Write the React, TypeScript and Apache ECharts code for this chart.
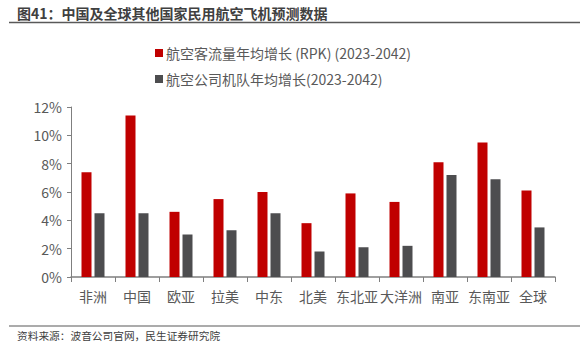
import React, { useEffect, useRef } from "react";
import * as echarts from "echarts";

const categories = ["非洲", "中国", "欧亚", "拉美", "中东", "北美", "东北亚", "大洋洲", "南亚", "东南亚", "全球"];
const rpkGrowth = [7.4, 11.4, 4.6, 5.5, 6.0, 3.8, 5.9, 5.3, 8.1, 9.5, 6.1];
const fleetGrowth = [4.5, 4.5, 3.0, 3.3, 4.5, 1.8, 2.1, 2.2, 7.2, 6.9, 3.5];
const seriesNames = ["航空客流量年均增长 (RPK) (2023-2042)", "航空公司机队年均增长(2023-2042)"];
const titleText = "图41：中国及全球其他国家民用航空飞机预测数据";
const sourceText = "资料来源：波音公司官网，民生证券研究院";

const FONT = "'Noto Sans CJK SC', 'Noto Sans', sans-serif";

export default function App() {
  const ref = useRef<HTMLDivElement>(null);
  useEffect(() => {
    document.body.style.margin = "0";
    const chart = echarts.init(ref.current!, null, { renderer: "svg" });
    chart.setOption({
      animation: false,
      textStyle: { fontFamily: FONT },
      legend: {
        orient: "vertical",
        left: 150,
        top: 41,
        itemGap: 12,
        itemWidth: 8,
        itemHeight: 8,
        icon: "rect",
        textStyle: { fontSize: 14, color: "#595959", fontFamily: FONT, padding: [0, 0, 0, -2] },
        data: seriesNames,
      },
      grid: { left: 71, right: 33, top: 107, bottom: 76 },
      xAxis: {
        type: "category",
        data: categories,
        axisLine: { lineStyle: { color: "#7f7f7f", width: 1.5 } },
        axisTick: { show: true, lineStyle: { color: "#7f7f7f" }, length: 5 },
        axisLabel: { fontSize: 14, color: "#595959", margin: 12, interval: 0, fontFamily: FONT },
      },
      yAxis: {
        type: "value",
        min: 0,
        max: 12,
        interval: 2,
        axisLine: { show: true, lineStyle: { color: "#7f7f7f", width: 1 } },
        axisTick: { show: true, lineStyle: { color: "#7f7f7f" }, length: 4 },
        splitLine: { show: false },
        axisLabel: { fontSize: 14, color: "#595959", formatter: "{value}%", margin: 9, fontFamily: FONT },
      },
      series: [
        {
          name: seriesNames[0],
          type: "bar",
          data: rpkGrowth,
          barWidth: 10,
          barGap: "30%",
          itemStyle: { color: "#C00000" },
        },
        {
          name: seriesNames[1],
          type: "bar",
          data: fleetGrowth,
          barWidth: 10,
          itemStyle: { color: "#4D4D4F" },
        },
      ],
      graphic: [
        {
          type: "text",
          left: 17,
          top: 6,
          style: { text: titleText, fontSize: 14, fontWeight: "bold", fill: "#404040", fontFamily: FONT },
        },
        {
          type: "line",
          shape: { x1: 9, y1: 22.5, x2: 580, y2: 22.5 },
          style: { stroke: "#595959", lineWidth: 1.5 },
        },
        {
          type: "line",
          shape: { x1: 9, y1: 326, x2: 580, y2: 326 },
          style: { stroke: "#595959", lineWidth: 1.2 },
        },
        {
          type: "text",
          left: 17,
          top: 330,
          style: { text: sourceText, fontSize: 10.7, fill: "#404040", fontFamily: FONT },
        },
      ],
    });
    return () => chart.dispose();
  }, []);
  return <div ref={ref} style={{ width: 588, height: 353 }} />;
}
